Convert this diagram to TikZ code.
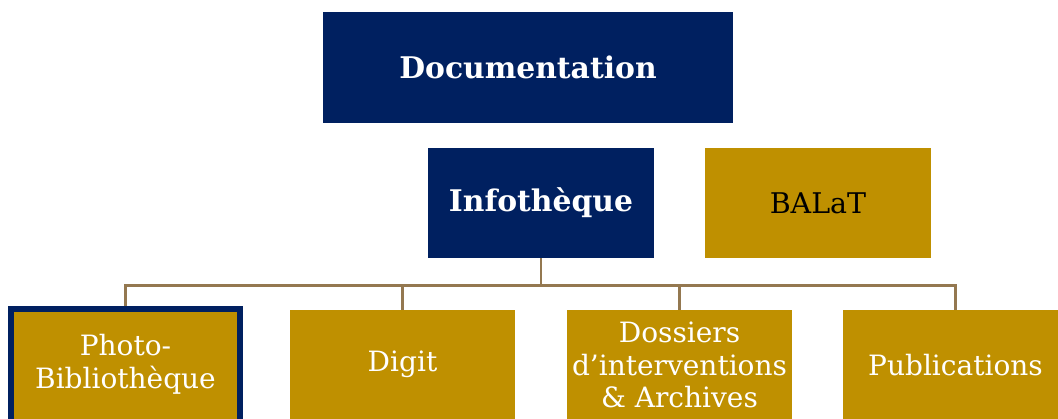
\documentclass[tikz,border=0pt]{standalone}
\usepackage{fontspec}
\setmainfont{DejaVu Serif}
\usetikzlibrary{backgrounds}
\definecolor{navy}{RGB}{0,32,96}
\definecolor{gold}{RGB}{191,144,0}
\definecolor{linkc}{RGB}{148,120,80}
\tikzset{
  navybox/.style={rectangle, fill=navy, text=white, inner sep=0pt, align=center,
    font=\fontsize{29.8}{34}\selectfont\bfseries},
  goldbox/.style={rectangle, fill=gold, text=white, inner sep=0pt, align=center,
    minimum width=225pt, minimum height=110pt,
    font=\fontsize{28}{32.5}\selectfont},
  link/.style={draw=linkc, line width=2.6pt}
}
\begin{document}
\begin{tikzpicture}[x=1pt,y=-1pt]
\useasboundingbox (0,0) rectangle (1058,419);
\node[navybox, minimum width=410pt, minimum height=111pt] (doc) at (528,67.5) {Documentation};
\node[navybox, minimum width=226pt, minimum height=110pt] (info) at (541,203) {Infothèque};
\node[goldbox, text=black, font=\fontsize{28.5}{32}\selectfont, minimum width=226pt] (balat) at (818,203) {BALaT};
\node[goldbox, draw=navy, line width=6pt, minimum width=229pt, minimum height=120pt] (photo) at (125.5,369) {};
\node[text=white, align=center, font=\fontsize{28}{32.5}\selectfont] (photot) at (125.5,364.5) {Photo-\\Bibliothèque};
\node[goldbox, minimum height=120pt] (digit) at (402.5,370) {};
\node[text=white, font=\fontsize{28}{32.5}\selectfont] (digitt) at (402.5,364.5) {Digit};
\node[goldbox, minimum height=120pt] (doss) at (679.5,370) {};
\node[text=white, align=center, font=\fontsize{28}{32.5}\selectfont] (dosst) at (679.5,365) {Dossiers\\d’interventions\\\& Archives};
\node[goldbox, minimum height=120pt] (pub) at (955.5,370) {};
\node[text=white, font=\fontsize{28}{32.5}\selectfont] (pubt) at (955.5,365) {Publications};
\coordinate (bus) at (541,285.5);
\begin{scope}[on background layer]
\draw[link] (info.south) -- (bus);
\draw[link] (bus) -| (photo.north);
\draw[link] (bus) -| (digit.north);
\draw[link] (bus) -| (doss.north);
\draw[link] (bus) -| (pub.north);
\end{scope}
\end{tikzpicture}
\end{document}
